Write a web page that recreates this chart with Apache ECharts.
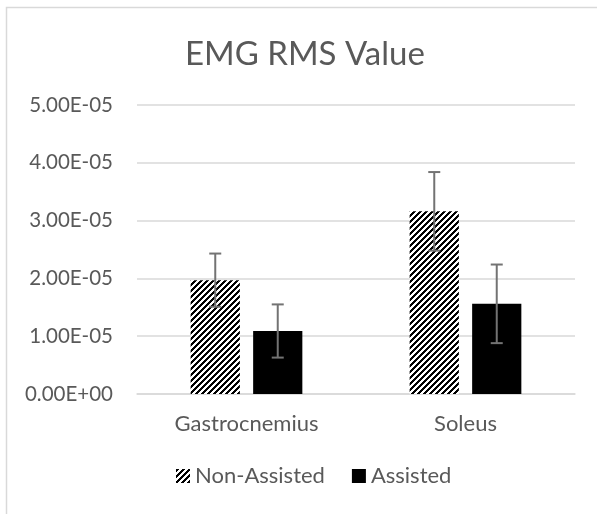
<!DOCTYPE html>
<html>
<head>
<meta charset="utf-8">
<script src="https://cdn.jsdelivr.net/npm/echarts@6/dist/echarts.min.js"></script>
<style>
html,body{margin:0;padding:0;background:#fff;}
#chart{width:597px;height:514px;}
</style>
</head>
<body>
<div id="chart"></div>
<script>
var categories = ['Gastrocnemius', 'Soleus'];
var seriesNames = ['Non-Assisted', 'Assisted'];
var nonAssisted = [1.97e-5, 3.16e-5];
var assisted = [1.09e-5, 1.56e-5];
var nonAssistedErr = [0.46e-5, 0.68e-5];
var assistedErr = [0.46e-5, 0.68e-5];
var yTicks = { min: 0, max: 5e-5, interval: 1e-5 };

function makeHatch() {
  var size = 6;
  var c = document.createElement('canvas');
  c.width = size; c.height = size;
  var ctx = c.getContext('2d');
  var img = ctx.createImageData(size, size);
  for (var y = 0; y < size; y++) {
    for (var x = 0; x < size; x++) {
      var k = (x + y) % size;
      var black = k < 3;
      var i = (y * size + x) * 4;
      var v = black ? 0 : 255;
      img.data[i] = v; img.data[i+1] = v; img.data[i+2] = v; img.data[i+3] = 255;
    }
  }
  ctx.putImageData(img, 0, 0);
  return c;
}
var hatch = makeHatch();

function fmt(v) {
  var s = Number(v).toExponential(2).toUpperCase();
  var m = s.match(/^(-?[\d.]+)E([+-])(\d+)$/);
  if (!m) return s;
  var e = m[3].length < 2 ? '0' + m[3] : m[3];
  return m[1] + 'E' + m[2] + e;
}

var catGap = 0.49, barGapFrac = 0.27;

function errorSeries(name, values, errs, sign) {
  var data = values.map(function (v, i) { return [i, v - errs[i], v + errs[i]]; });
  return {
    type: 'custom',
    name: name + ' error',
    z: 10,
    silent: true,
    renderItem: function (params, api) {
      var idx = api.value(0);
      var lo = api.coord([idx, api.value(1)]);
      var hi = api.coord([idx, api.value(2)]);
      var band = api.size([1, 0])[0];
      var w = band * (1 - catGap) / (2 + barGapFrac);
      var off = sign * (w + w * barGapFrac) / 2;
      var x = lo[0] + off;
      var cap = 6;
      var style = { stroke: '#737373', lineWidth: 2 };
      return {
        type: 'group',
        children: [
          { type: 'line', shape: { x1: x, y1: lo[1], x2: x, y2: hi[1] }, style: style },
          { type: 'line', shape: { x1: x - cap, y1: lo[1], x2: x + cap, y2: lo[1] }, style: style },
          { type: 'line', shape: { x1: x - cap, y1: hi[1], x2: x + cap, y2: hi[1] }, style: style }
        ]
      };
    },
    data: data
  };
}

var chart = echarts.init(document.getElementById('chart'), null, { renderer: 'canvas' });
var textColor = '#595959';
var font = 'Lato, "Open Sans", sans-serif';

chart.setOption({
  animation: false,
  backgroundColor: '#ffffff',
  graphic: [{
    type: 'rect',
    shape: { x: 6.5, y: 7.5, width: 620, height: 540 },
    style: { fill: 'none', stroke: '#d9d9d9', lineWidth: 1.5 },
    silent: true, z: -1
  }],
  title: {
    text: 'EMG RMS Value',
    left: 180,
    top: 33,
    textStyle: { color: textColor, fontSize: 33, fontWeight: 'normal', fontFamily: font }
  },
  legend: {
    data: seriesNames,
    bottom: 22,
    left: 171,
    itemWidth: 14,
    itemHeight: 14,
    itemGap: 27,
    icon: 'rect',
    textStyle: { color: textColor, fontSize: 22, fontFamily: font }
  },
  grid: { left: 137, right: 22, top: 105, bottom: 120, containLabel: false },
  xAxis: {
    type: 'category',
    data: categories,
    axisLine: { lineStyle: { color: '#d9d9d9', width: 1.5 } },
    axisTick: { show: false },
    axisLabel: { color: textColor, fontSize: 22, fontFamily: font, margin: 19 }
  },
  yAxis: {
    type: 'value',
    min: yTicks.min, max: yTicks.max, interval: yTicks.interval,
    axisLine: { show: false },
    axisTick: { show: false },
    splitLine: { lineStyle: { color: '#d9d9d9', width: 1.5 } },
    axisLabel: { color: textColor, fontSize: 20.5, fontFamily: font, margin: 24, formatter: fmt }
  },
  series: [
    {
      name: seriesNames[0], type: 'bar', data: nonAssisted,
      barCategoryGap: (catGap * 100) + '%', barGap: (barGapFrac * 100) + '%',
      itemStyle: { color: { image: hatch, repeat: 'repeat' } }
    },
    {
      name: seriesNames[1], type: 'bar', data: assisted,
      barCategoryGap: (catGap * 100) + '%', barGap: (barGapFrac * 100) + '%',
      itemStyle: { color: '#000000' }
    },
    errorSeries(seriesNames[0], nonAssisted, nonAssistedErr, -1),
    errorSeries(seriesNames[1], assisted, assistedErr, 1)
  ]
});
</script>
</body>
</html>
